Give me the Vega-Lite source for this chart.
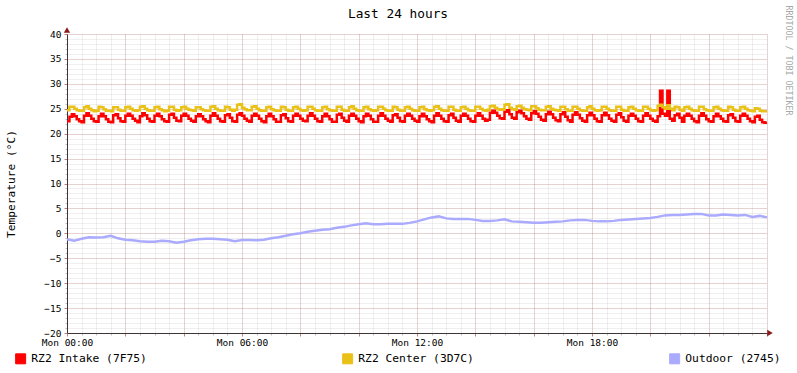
{
"$schema": "https://vega.github.io/schema/vega-lite/v6.json",
"width": 700, "height": 299,
"autosize": {"type": "none"},
"padding": {"left": 67, "top": 34, "right": 30, "bottom": 40},
"background": "white",
"config": {"view": {"stroke": null}, "font": "DejaVu Sans Mono"},
"title": {"text": "Last 24 hours", "font": "DejaVu Sans Mono", "fontSize": 12.8, "fontWeight": "normal", "color": "black", "anchor": "middle", "frame": "group", "dx": -19, "offset": 0, "dy": 16},
"data": {"values": [
{"t":0,"r":22.5,"c":24.7,"o":-1.2},{"t":5,"r":23.4,"c":25.4},{"t":10,"r":23.9,"c":25.4},{"t":15,"r":23.5,"c":25.0,"o":-1.5},{"t":20,"r":22.9,"c":24.7},{"t":25,"r":22.5,"c":24.6},
{"t":30,"r":22.3,"c":24.6,"o":-1.1},{"t":35,"r":23.6,"c":25.3},{"t":40,"r":24.1,"c":25.5},{"t":45,"r":23.6,"c":25.0,"o":-0.8},{"t":50,"r":23.0,"c":24.7},{"t":55,"r":22.5,"c":24.5},
{"t":60,"r":22.4,"c":24.6,"o":-0.85},{"t":65,"r":23.5,"c":25.4},{"t":70,"r":24.0,"c":25.3},{"t":75,"r":23.5,"c":24.9,"o":-0.8},{"t":80,"r":22.9,"c":24.6},{"t":85,"r":22.4,"c":24.6},
{"t":90,"r":22.3,"c":24.5,"o":-0.5},{"t":95,"r":23.7,"c":25.3},{"t":100,"r":23.9,"c":25.3},{"t":105,"r":23.1,"c":24.8,"o":-1.0},{"t":110,"r":22.5,"c":24.6},
{"t":115,"r":22.4,"c":24.6},{"t":120,"r":23.6,"c":25.3,"o":-1.3},{"t":125,"r":24.0,"c":25.4},{"t":130,"r":23.6,"c":25.0},{"t":135,"r":23.0,"c":24.7,"o":-1.4},{"t":140,"r":22.6,"c":24.6},
{"t":145,"r":22.3,"c":24.7},{"t":150,"r":23.5,"c":25.4,"o":-1.6},{"t":155,"r":24.1,"c":25.5},{"t":160,"r":23.7,"c":25.0},{"t":165,"r":23.0,"c":24.7,"o":-1.7},{"t":170,"r":22.5,"c":24.6},
{"t":175,"r":22.4,"c":24.6},{"t":180,"r":23.6,"c":25.3,"o":-1.7},{"t":185,"r":24.0,"c":25.4},{"t":190,"r":23.5,"c":24.9},{"t":195,"r":22.9,"c":24.7,"o":-1.5},{"t":200,"r":22.5,"c":24.5},
{"t":205,"r":22.4,"c":24.6},{"t":210,"r":23.8,"c":25.4,"o":-1.6},{"t":215,"r":24.0,"c":25.4},{"t":220,"r":23.2,"c":24.8},{"t":225,"r":22.6,"c":24.6,"o":-1.9},
{"t":230,"r":22.5,"c":24.7},{"t":235,"r":23.6,"c":25.3},{"t":240,"r":24.0,"c":25.4,"o":-1.7},{"t":245,"r":23.6,"c":25.0},{"t":250,"r":23.0,"c":24.8},{"t":255,"r":22.6,"c":24.7,"o":-1.4},
{"t":260,"r":22.4,"c":24.6},{"t":265,"r":23.5,"c":25.3},{"t":270,"r":23.9,"c":25.3,"o":-1.2},{"t":275,"r":23.5,"c":24.9},{"t":280,"r":22.9,"c":24.7},{"t":285,"r":22.5,"c":24.6,"o":-1.1},
{"t":290,"r":22.3,"c":24.6},{"t":295,"r":23.6,"c":25.4},{"t":300,"r":24.1,"c":25.5,"o":-1.1},{"t":305,"r":23.6,"c":25.0},{"t":310,"r":23.0,"c":24.7},{"t":315,"r":22.5,"c":24.6,"o":-1.2},
{"t":320,"r":22.4,"c":24.6},{"t":325,"r":23.7,"c":25.4},{"t":330,"r":23.9,"c":25.3,"o":-1.3},{"t":335,"r":23.2,"c":24.8},{"t":340,"r":22.5,"c":24.6},
{"t":345,"r":22.4,"c":24.8,"o":-1.6},{"t":350,"r":23.8,"c":25.8},{"t":355,"r":24.1,"c":25.9},{"t":360,"r":23.6,"c":25.2,"o":-1.35},{"t":365,"r":23.0,"c":24.9},{"t":370,"r":22.6,"c":24.7},
{"t":375,"r":22.4,"c":24.7,"o":-1.35},{"t":380,"r":23.6,"c":25.4},{"t":385,"r":24.0,"c":25.5},{"t":390,"r":23.6,"c":25.0,"o":-1.4},{"t":395,"r":23.0,"c":24.7},{"t":400,"r":22.5,"c":24.6},
{"t":405,"r":22.3,"c":24.6,"o":-1.3},{"t":410,"r":23.5,"c":25.3},{"t":415,"r":24.0,"c":25.4},{"t":420,"r":23.5,"c":24.9,"o":-1.0},{"t":425,"r":22.9,"c":24.7},{"t":430,"r":22.4,"c":24.6},
{"t":435,"r":22.4,"c":24.6,"o":-0.8},{"t":440,"r":23.7,"c":25.4},{"t":445,"r":23.9,"c":25.3},{"t":450,"r":23.1,"c":24.8,"o":-0.5},{"t":455,"r":22.5,"c":24.6},
{"t":460,"r":22.4,"c":24.6},{"t":465,"r":23.6,"c":25.3,"o":-0.2},{"t":470,"r":24.0,"c":25.4},{"t":475,"r":23.6,"c":25.0},{"t":480,"r":23.0,"c":24.7,"o":0.0},{"t":485,"r":22.6,"c":24.6},
{"t":490,"r":22.5,"c":24.7},{"t":495,"r":23.6,"c":25.4,"o":0.3},{"t":500,"r":24.1,"c":25.4},{"t":505,"r":23.6,"c":25.0},{"t":510,"r":23.0,"c":24.7,"o":0.5},{"t":515,"r":22.5,"c":24.6},
{"t":520,"r":22.4,"c":24.6},{"t":525,"r":23.5,"c":25.3,"o":0.7},{"t":530,"r":24.0,"c":25.4},{"t":535,"r":23.5,"c":24.9},{"t":540,"r":22.9,"c":24.7,"o":0.8},{"t":545,"r":22.4,"c":24.6},
{"t":550,"r":22.4,"c":24.6},{"t":555,"r":23.8,"c":25.4,"o":1.1},{"t":560,"r":24.0,"c":25.4},{"t":565,"r":23.2,"c":24.8},{"t":570,"r":22.6,"c":24.6,"o":1.3},
{"t":575,"r":22.4,"c":24.6},{"t":580,"r":23.6,"c":25.3},{"t":585,"r":24.0,"c":25.5,"o":1.6},{"t":590,"r":23.6,"c":25.0},{"t":595,"r":23.0,"c":24.7},{"t":600,"r":22.5,"c":24.6,"o":1.8},
{"t":605,"r":22.3,"c":24.6},{"t":610,"r":23.5,"c":25.3},{"t":615,"r":24.0,"c":25.4,"o":2.0},{"t":620,"r":23.6,"c":24.9},{"t":625,"r":22.9,"c":24.7},{"t":630,"r":22.4,"c":24.6,"o":1.8},
{"t":635,"r":22.4,"c":24.7},{"t":640,"r":23.6,"c":25.4},{"t":645,"r":24.1,"c":25.4,"o":1.8},{"t":650,"r":23.6,"c":25.0},{"t":655,"r":23.0,"c":24.7},{"t":660,"r":22.6,"c":24.6,"o":1.9},
{"t":665,"r":22.4,"c":24.6},{"t":670,"r":23.7,"c":25.4},{"t":675,"r":23.9,"c":25.3,"o":1.9},{"t":680,"r":23.2,"c":24.8},{"t":685,"r":22.5,"c":24.6},
{"t":690,"r":22.4,"c":24.6,"o":1.9},{"t":695,"r":23.6,"c":25.3},{"t":700,"r":24.0,"c":25.4},{"t":705,"r":23.6,"c":25.0,"o":2.1},{"t":710,"r":23.0,"c":24.7},{"t":715,"r":22.6,"c":24.6},
{"t":720,"r":22.4,"c":24.6,"o":2.4},{"t":725,"r":23.5,"c":25.3},{"t":730,"r":24.0,"c":25.4},{"t":735,"r":23.5,"c":24.9,"o":2.8},{"t":740,"r":22.9,"c":24.7},{"t":745,"r":22.5,"c":24.6},
{"t":750,"r":22.3,"c":24.7,"o":3.2},{"t":755,"r":23.6,"c":25.4},{"t":760,"r":24.1,"c":25.5},{"t":765,"r":23.6,"c":25.0,"o":3.4},{"t":770,"r":23.0,"c":24.7},{"t":775,"r":22.5,"c":24.6},
{"t":780,"r":22.4,"c":24.6,"o":3.0},{"t":785,"r":23.7,"c":25.4},{"t":790,"r":24.0,"c":25.4},{"t":795,"r":23.2,"c":24.8,"o":2.9},{"t":800,"r":22.6,"c":24.6},
{"t":805,"r":22.4,"c":24.6},{"t":810,"r":23.6,"c":25.3,"o":2.9},{"t":815,"r":24.0,"c":25.4},{"t":820,"r":23.6,"c":25.0},{"t":825,"r":23.0,"c":24.7,"o":2.9},{"t":830,"r":22.5,"c":24.6},
{"t":835,"r":22.4,"c":24.6},{"t":840,"r":23.6,"c":25.4,"o":2.7},{"t":845,"r":24.1,"c":25.4},{"t":850,"r":23.6,"c":25.0},{"t":855,"r":23.0,"c":24.7,"o":2.5},{"t":860,"r":22.6,"c":24.6},
{"t":865,"r":22.8,"c":24.8},{"t":870,"r":24.2,"c":25.5,"o":2.5},{"t":875,"r":24.6,"c":25.6},{"t":880,"r":24.2,"c":25.2},{"t":885,"r":23.6,"c":24.9,"o":2.6},{"t":890,"r":23.1,"c":24.8},
{"t":895,"r":23.0,"c":24.9},{"t":900,"r":24.4,"c":25.8,"o":2.8},{"t":905,"r":24.7,"c":25.9},{"t":910,"r":23.9,"c":25.2},{"t":915,"r":23.2,"c":24.9,"o":2.4},
{"t":920,"r":23.0,"c":24.8},{"t":925,"r":24.3,"c":25.5},{"t":930,"r":24.6,"c":25.6,"o":2.3},{"t":935,"r":24.1,"c":25.2},{"t":940,"r":23.5,"c":24.9},{"t":945,"r":23.0,"c":24.8,"o":2.2},
{"t":950,"r":22.8,"c":24.7},{"t":955,"r":24.1,"c":25.5},{"t":960,"r":24.5,"c":25.5,"o":2.1},{"t":965,"r":24.0,"c":25.1},{"t":970,"r":23.4,"c":24.8},{"t":975,"r":22.8,"c":24.7,"o":2.1},
{"t":980,"r":22.6,"c":24.7},{"t":985,"r":23.9,"c":25.4},{"t":990,"r":24.4,"c":25.5,"o":2.2},{"t":995,"r":23.9,"c":25.0},{"t":1000,"r":23.2,"c":24.8},{"t":1005,"r":22.7,"c":24.7,"o":2.3},
{"t":1010,"r":22.5,"c":24.6},{"t":1015,"r":23.9,"c":25.4},{"t":1020,"r":24.3,"c":25.4,"o":2.4},{"t":1025,"r":23.4,"c":24.9},{"t":1030,"r":22.7,"c":24.6},
{"t":1035,"r":22.4,"c":24.6,"o":2.6},{"t":1040,"r":23.8,"c":25.4},{"t":1045,"r":24.3,"c":25.4},{"t":1050,"r":23.8,"c":25.0,"o":2.7},{"t":1055,"r":23.1,"c":24.7},{"t":1060,"r":22.6,"c":24.6},
{"t":1065,"r":22.4,"c":24.6,"o":2.7},{"t":1070,"r":23.7,"c":25.3},{"t":1075,"r":24.2,"c":25.5},{"t":1080,"r":23.7,"c":25.0,"o":2.5},{"t":1085,"r":23.0,"c":24.7},{"t":1090,"r":22.5,"c":24.6},
{"t":1095,"r":22.4,"c":24.7,"o":2.4},{"t":1100,"r":23.7,"c":25.4},{"t":1105,"r":24.2,"c":25.4},{"t":1110,"r":23.7,"c":25.0,"o":2.4},{"t":1115,"r":23.0,"c":24.7},{"t":1120,"r":22.6,"c":24.6},
{"t":1125,"r":22.4,"c":24.6,"o":2.5},{"t":1130,"r":23.8,"c":25.4},{"t":1135,"r":24.1,"c":25.4},{"t":1140,"r":23.3,"c":24.8,"o":2.7},{"t":1145,"r":22.6,"c":24.6},
{"t":1150,"r":22.4,"c":24.6},{"t":1155,"r":23.6,"c":25.3,"o":2.8},{"t":1160,"r":24.0,"c":25.4},{"t":1165,"r":23.6,"c":25.0},{"t":1170,"r":23.0,"c":24.7,"o":2.9},{"t":1175,"r":22.5,"c":24.6},
{"t":1180,"r":22.4,"c":24.6},{"t":1185,"r":23.6,"c":25.4,"o":3.0},{"t":1190,"r":24.1,"c":25.4},{"t":1195,"r":23.6,"c":25.0},{"t":1200,"r":23.0,"c":24.7,"o":3.1},{"t":1205,"r":22.6,"c":24.6},
{"t":1210,"r":22.4,"c":24.7},{"t":1215,"r":23.5,"c":25.6,"o":3.3},{"t":1220,"r":28.6,"c":25.8},{"t":1225,"r":24.0,"c":25.3},{"t":1230,"r":23.6,"c":25.0,"o":3.6},{"t":1235,"r":28.6,"c":25.7},
{"t":1240,"r":23.0,"c":25.0},{"t":1245,"r":22.6,"c":24.7,"o":3.7},{"t":1250,"r":23.7,"c":25.4},{"t":1255,"r":24.0,"c":25.3},{"t":1260,"r":23.2,"c":24.8,"o":3.7},
{"t":1265,"r":22.4,"c":24.6},{"t":1270,"r":23.6,"c":25.3},{"t":1275,"r":24.0,"c":25.4,"o":3.8},{"t":1280,"r":23.6,"c":25.0},{"t":1285,"r":23.0,"c":24.7},{"t":1290,"r":22.5,"c":24.6,"o":3.9},
{"t":1295,"r":22.3,"c":24.6},{"t":1300,"r":23.6,"c":25.4},{"t":1305,"r":24.1,"c":25.4,"o":3.9},{"t":1310,"r":23.6,"c":24.9},{"t":1315,"r":22.9,"c":24.7},{"t":1320,"r":22.5,"c":24.6,"o":3.6},
{"t":1325,"r":22.4,"c":24.6},{"t":1330,"r":23.5,"c":25.3},{"t":1335,"r":24.0,"c":25.4,"o":3.6},{"t":1340,"r":23.5,"c":25.0},{"t":1345,"r":23.0,"c":24.7},{"t":1350,"r":22.5,"c":24.6,"o":3.8},
{"t":1355,"r":22.4,"c":24.6},{"t":1360,"r":23.7,"c":25.4},{"t":1365,"r":23.9,"c":25.3,"o":3.7},{"t":1370,"r":23.2,"c":24.8},{"t":1375,"r":22.5,"c":24.6},
{"t":1380,"r":22.4,"c":24.6,"o":3.6},{"t":1385,"r":23.6,"c":25.3},{"t":1390,"r":24.0,"c":25.4},{"t":1395,"r":23.6,"c":25.0,"o":3.7},{"t":1400,"r":23.0,"c":24.7},{"t":1405,"r":22.5,"c":24.6},
{"t":1410,"r":22.3,"c":24.5,"o":3.3},{"t":1415,"r":23.4,"c":25.1},{"t":1420,"r":23.6,"c":25.0},{"t":1425,"r":22.8,"c":24.6,"o":3.5},{"t":1430,"r":22.3,"c":24.5},{"t":1435,"r":22.2,"c":24.5},
{"t":1440,"r":22.2,"c":24.5,"o":3.2}
]},
"resolve": {"axis": {"x": "independent", "y": "independent"}},
"layer": [
{
 "transform": [{"fold": ["r","c"], "as": ["k","v"]}],
 "mark": {"type": "line", "interpolate": "step-after", "strokeWidth": 2.5},
 "encoding": {
  "x": {"field": "t", "type": "quantitative", "scale": {"domain": [0,1440], "nice": false, "zero": false},
   "axis": {"orient": "bottom", "values": [0,30,60,90,120,150,180,210,240,270,300,330,360,390,420,450,480,510,540,570,600,630,660,690,720,750,780,810,840,870,900,930,960,990,1020,1050,1080,1110,1140,1170,1200,1230,1260,1290,1320,1350,1380,1410,1440],
    "grid": true, "gridColor": "#8C8C8C", "gridOpacity": 0.28, "gridDash": [1,1], "labels": false, "domain": false, "ticks": true, "tickColor": "#C0C0C0", "tickSize": 2, "title": null}},
  "y": {"field": "v", "type": "quantitative", "scale": {"domain": [-20,40], "nice": false, "zero": false},
   "axis": {"orient": "left", "values": [-20,-19,-18,-17,-16,-15,-14,-13,-12,-11,-10,-9,-8,-7,-6,-5,-4,-3,-2,-1,0,1,2,3,4,5,6,7,8,9,10,11,12,13,14,15,16,17,18,19,20,21,22,23,24,25,26,27,28,29,30,31,32,33,34,35,36,37,38,39,40],
    "grid": true, "gridColor": "#8C8C8C", "gridOpacity": 0.28, "gridDash": [1,1], "labels": false, "domain": false, "ticks": true, "tickColor": "#C0C0C0", "tickSize": 2, "title": null}},
  "color": {"field": "k", "type": "nominal", "scale": {"domain": ["r","c","o"], "range": ["#FF0000","#EAC117","#AAAAFF"]},
   "legend": {"orient": "none", "legendX": -52, "legendY": 319, "direction": "horizontal", "columns": 3, "columnPadding": 193, "padding": 0,
    "symbolType": "square", "symbolSize": 100, "symbolStrokeWidth": 1, "labelFont": "DejaVu Sans Mono", "labelFontSize": 11.3, "labelColor": "black", "labelOffset": 5, "labelLimit": 0, "title": null,
    "labelExpr": "datum.value == 'r' ? 'RZ2 Intake (7F75)' : datum.value == 'c' ? 'RZ2 Center (3D7C)' : 'Outdoor (2745)'",
    "encode": {"symbols": {"update": {"fill": {"scale": "color", "field": "value"}, "stroke": {"value": "black"}, "opacity": {"value": 1}}}}}}
 }
},
{
 "transform": [{"fold": ["o"], "as": ["k","v"]}, {"filter": "isValid(datum.v)"}],
 "mark": {"type": "line", "interpolate": "linear", "strokeWidth": 2.5},
 "encoding": {
  "x": {"field": "t", "type": "quantitative",
   "axis": {"orient": "bottom", "values": [0,120,240,360,480,600,720,840,960,1080,1200,1320,1440],
    "grid": true, "gridColor": "#B03030", "gridOpacity": 0.3, "gridDash": [1,1], "domain": true, "domainColor": "#403535", "ticks": true, "tickColor": "#C08080", "tickSize": 3,
    "labelFont": "DejaVu Sans Mono", "labelFontSize": 9.5, "labelColor": "black", "labelPadding": 1, "labelFlush": false,
    "labelExpr": "datum.value % 360 == 0 && datum.value < 1440 ? 'Mon ' + (datum.value < 600 ? '0' : '') + (datum.value / 60) + ':00' : ''", "title": null}},
  "y": {"field": "v", "type": "quantitative",
   "axis": {"orient": "left", "values": [-20,-15,-10,-5,0,5,10,15,20,25,30,35,40],
    "grid": true, "gridColor": "#B03030", "gridOpacity": 0.3, "gridDash": [1,1], "domain": true, "domainColor": "#403535", "ticks": true, "tickColor": "#C08080", "tickSize": 3,
    "labelFont": "DejaVu Sans Mono", "labelFontSize": 9.5, "labelColor": "black", "labelPadding": 3,
    "title": "Temperature (°C)", "titleFont": "DejaVu Sans Mono", "titleFontSize": 11.2, "titleFontWeight": "normal", "titleColor": "black",
    "titleX": -56, "titleY": 149.5, "titleAlign": "center", "titleBaseline": "middle", "titleAngle": -90}},
  "color": {"field": "k", "type": "nominal",
   "legend": {"orient": "none", "legendX": -52, "legendY": 319, "direction": "horizontal", "columns": 3, "columnPadding": 193, "padding": 0,
    "symbolType": "square", "symbolSize": 100, "symbolStrokeWidth": 1, "labelFont": "DejaVu Sans Mono", "labelFontSize": 11.3, "labelColor": "black", "labelOffset": 5, "labelLimit": 0, "title": null,
    "labelExpr": "datum.value == 'r' ? 'RZ2 Intake (7F75)' : datum.value == 'c' ? 'RZ2 Center (3D7C)' : 'Outdoor (2745)'",
    "encode": {"symbols": {"update": {"fill": {"scale": "color", "field": "value"}, "stroke": {"value": "black"}, "opacity": {"value": 1}}}}}}
 }
},
{
 "data": {"values": [{"a": 1}]},
 "mark": {"type": "point", "shape": "triangle-up", "filled": true, "color": "#8B1A1A", "size": 40, "opacity": 1, "yOffset": -4},
 "encoding": {
  "x": {"datum": 0, "type": "quantitative", "axis": null},
  "y": {"datum": 40, "type": "quantitative",
   "axis": {"orient": "right", "domain": false, "ticks": false, "labels": false, "grid": false,
    "title": "RRDTOOL / TOBI OETIKER", "titleFont": "DejaVu Sans Mono", "titleFontSize": 8.3, "titleFontWeight": "normal", "titleColor": "#A8A8A8",
    "titleAngle": 90, "titleAlign": "left", "titleBaseline": "middle", "titleX": 20, "titleY": -29}}
 }
},
{
 "data": {"values": [{"a": 1}]},
 "mark": {"type": "point", "shape": "triangle-right", "filled": true, "color": "#8B1A1A", "size": 40, "opacity": 1, "xOffset": 3},
 "encoding": {
  "x": {"datum": 1440, "type": "quantitative", "axis": null},
  "y": {"datum": -20, "type": "quantitative", "axis": null}
 }
}
]
}
